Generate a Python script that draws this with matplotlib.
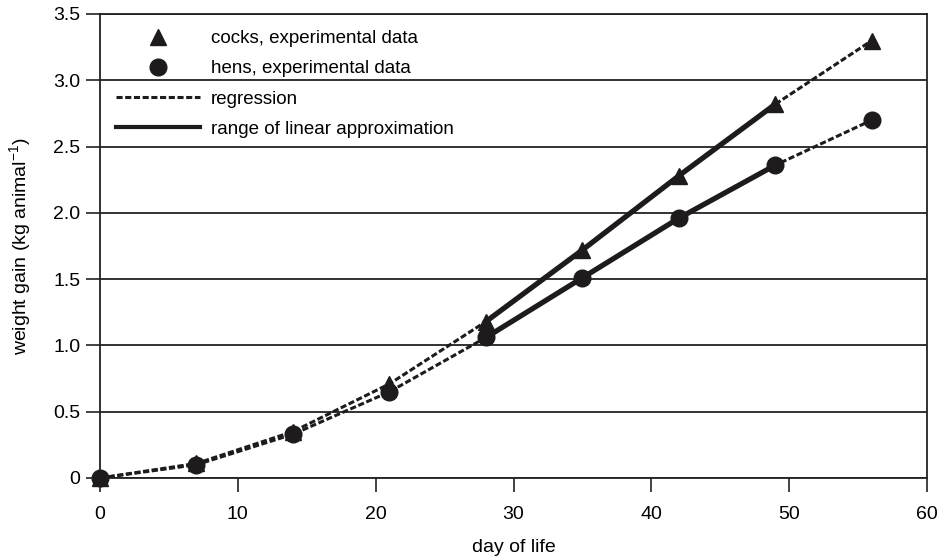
import matplotlib
matplotlib.use('Agg')
import matplotlib.pyplot as plt
from matplotlib.lines import Line2D

plt.rcParams['font.family'] = ['Liberation Sans', 'DejaVu Sans']

days = [0, 7, 14, 21, 28, 35, 42, 49, 56]
cocks = [0.0, 0.11, 0.35, 0.71, 1.18, 1.72, 2.28, 2.82, 3.30]
hens = [0.0, 0.10, 0.33, 0.65, 1.06, 1.51, 1.96, 2.36, 2.70]
# range of linear approximation: day 28..49 (index 4..7)
lin_from, lin_to = 4, 8

fig = plt.figure(figsize=(9.4, 5.6), dpi=100)
ax = fig.add_axes([100 / 940, 1 - 478 / 560, 827 / 940, 464 / 560])

ax.set_xlim(0, 60)
ax.set_ylim(0, 3.5)
ax.set_xticks(range(0, 61, 10))
ax.set_yticks([0, 0.5, 1.0, 1.5, 2.0, 2.5, 3.0, 3.5])
ax.set_yticklabels(['0', '0.5', '1.0', '1.5', '2.0', '2.5', '3.0', '3.5'])
ax.yaxis.grid(True, color='#222222', linewidth=1.3)
ax.set_axisbelow(True)
for s in ax.spines.values():
    s.set_linewidth(1.3)
    s.set_color('#222222')
ax.tick_params(axis='x', direction='out', length=10, width=1.2, labelsize=14, pad=10, color='#222222')
ax.tick_params(axis='y', direction='out', length=10, width=1.2, labelsize=14, pad=4, color='#222222')

col = '#1e1b1c'
dash = (0, (2.0, 0.85))
# regression (dashed through the data)
ax.plot(days, cocks, color=col, lw=2.2, ls=dash, zorder=3)
ax.plot(days, hens, color=col, lw=2.2, ls=dash, zorder=3)
# range of linear approximation
ax.plot(days[lin_from:lin_to], cocks[lin_from:lin_to], color=col, lw=3.8, zorder=4)
ax.plot(days[lin_from:lin_to], hens[lin_from:lin_to], color=col, lw=3.8, zorder=4)
# experimental data
ax.plot(days, cocks, ls='none', marker='^', ms=12, color=col, clip_on=False, zorder=5)
ax.plot(days, hens, ls='none', marker='o', ms=12, color=col, clip_on=False, zorder=5)

ax.set_xlabel('day of life', fontsize=14, labelpad=12)
ax.set_ylabel('weight gain (kg animal$^{\\mathregular{-1}}$)', fontsize=14, labelpad=14)

handles = [
    Line2D([], [], ls='none', marker='^', ms=12, color=col),
    Line2D([], [], ls='none', marker='o', ms=12, color=col),
    Line2D([], [], color=col, lw=2.2, ls=dash),
    Line2D([], [], color=col, lw=3.0),
]
labels = ['cocks, experimental data', 'hens, experimental data',
          'regression', 'range of linear approximation']
leg = ax.legend(handles, labels, loc='upper left', bbox_to_anchor=(0.0, 1.0),
                frameon=False, fontsize=13.5, handlelength=4.5, handletextpad=0.55,
                labelspacing=0.7, borderaxespad=0.4, borderpad=0.45)

fig.savefig('out.png', dpi=100)
